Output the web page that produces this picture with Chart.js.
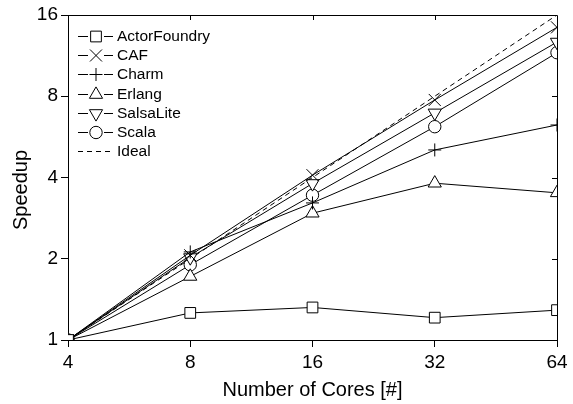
<!DOCTYPE html>
<html>
<head>
<meta charset="utf-8">
<script src="https://cdn.jsdelivr.net/npm/chart.js@4/dist/chart.umd.min.js"></script>
<style>
  html, body { margin: 0; padding: 0; background: #fff; }
  #wrap { width: 573px; height: 404px; }
</style>
</head>
<body>
<div id="wrap"><canvas id="speedup-chart" width="573" height="404"></canvas></div>
<script>
// --- data ---
const cores = [4, 8, 16, 32, 64];
const yTicks = [1, 2, 4, 8, 16];
const seriesNames = ['ActorFoundry', 'CAF', 'Charm', 'Erlang', 'SalsaLite', 'Scala', 'Ideal'];
const actorFoundry = [1, 1.26, 1.32, 1.21, 1.29];
const caf = [1, 2.06, 4.08, 7.75, 14.4];
const charm = [1, 2.12, 3.22, 5.06, 6.26];
const erlang = [1, 1.72, 2.95, 3.81, 3.51];
const salsaLite = [1, 2.02, 3.8, 6.94, 12.7];
const scala = [1, 1.9, 3.44, 6.17, 11.6];
const ideal = [1, 2, 4, 8, 16];

const FONT = "'Liberation Sans', Arial, Helvetica, sans-serif";

function pts(values) {
    return values.map((v, i) => ({ x: cores[i], y: v }));
}

// marker style per series
const markers = [
    { style: 'rect', radius: 7.6, rotation: 0 },
    { style: 'crossRot', radius: 8.5, rotation: 0 },
    { style: 'cross', radius: 6.5, rotation: 0 },
    { style: 'triangle', radius: 7.6, rotation: 0 },
    { style: 'triangle', radius: 7.6, rotation: 180 },
    { style: 'circle', radius: 6.2, rotation: 0 },
    { style: false, radius: 0, rotation: 0 }
];
const allValues = [actorFoundry, caf, charm, erlang, salsaLite, scala, ideal];

const datasets = allValues.map((vals, i) => ({
    label: seriesNames[i],
    data: pts(vals),
    borderColor: '#000',
    borderWidth: 1,
    borderDash: i === 6 ? [5, 4] : [],
    backgroundColor: '#fff',
    pointStyle: markers[i].style,
    pointRadius: markers[i].radius,
    pointRotation: markers[i].rotation,
    pointBorderColor: '#000',
    pointBackgroundColor: '#fff',
    pointBorderWidth: 1,
    tension: 0,
    fill: false
}));

// --- frame, inward mirror ticks, axis titles and legend ---
const framePlugin = {
    id: 'frame',
    afterDraw(chart) {
        const ctx = chart.ctx;
        const a = chart.chartArea;
        const xs = chart.scales.x, ys = chart.scales.y;
        ctx.save();
        ctx.strokeStyle = '#000';
        ctx.lineWidth = 1;
        ctx.beginPath();
        ctx.moveTo(a.left, a.top + 0.5);
        ctx.lineTo(a.right + 0.5, a.top + 0.5);
        ctx.lineTo(a.right + 0.5, a.bottom);
        // top ticks
        cores.slice(1, -1).forEach(c => {
            const px = Math.round(xs.getPixelForValue(c)) + 0.5;
            ctx.moveTo(px, a.top);
            ctx.lineTo(px, a.top + 5);
        });
        // right ticks
        yTicks.slice(1, -1).forEach(v => {
            const py = Math.round(ys.getPixelForValue(v)) + 0.5;
            ctx.moveTo(a.right, py);
            ctx.lineTo(a.right - 5, py);
        });
        ctx.stroke();

        // axis titles
        ctx.fillStyle = '#000';
        ctx.font = '20px ' + FONT;
        ctx.textAlign = 'center';
        ctx.textBaseline = 'middle';
        ctx.fillText('Number of Cores [#]', (a.left + a.right) / 2, 390);
        ctx.save();
        ctx.translate(21, 190);
        ctx.rotate(-Math.PI / 2);
        ctx.fillText('Speedup', 0, 0);
        ctx.restore();

        // legend: line - marker - line, then label
        ctx.font = '15.5px ' + FONT;
        ctx.textAlign = 'left';
        chart.data.datasets.forEach((ds, i) => {
            const y = Math.round(36 + i * 19.2) + 0.5;
            ctx.beginPath();
            ctx.setLineDash(ds.borderDash);
            if (ds.pointStyle) {
                ctx.moveTo(78, y); ctx.lineTo(88, y);
                ctx.moveTo(104, y); ctx.lineTo(113, y);
            } else {
                ctx.moveTo(78, y); ctx.lineTo(113, y);
            }
            ctx.stroke();
            ctx.setLineDash([]);
            if (ds.pointStyle) {
                ctx.fillStyle = '#fff';
                Chart.helpers.drawPoint(ctx, {
                    pointStyle: ds.pointStyle,
                    radius: ds.pointRadius,
                    rotation: ds.pointRotation,
                    borderWidth: 1
                }, 96, y);
            }
            ctx.fillStyle = '#000';
            ctx.fillText(ds.label, 117, y);
        });
        ctx.restore();
    }
};

const ctx = document.getElementById('speedup-chart').getContext('2d');
window.speedupChart = new Chart(ctx, {
    type: 'line',
    data: { datasets: datasets },
    options: {
        responsive: false,
        animation: false,
        events: [],
        layout: { padding: { left: 0, top: 15, right: 16, bottom: 0 } },
        plugins: { legend: { display: false }, tooltip: { enabled: false } },
        scales: {
            x: {
                type: 'logarithmic',
                min: 4,
                max: 64,
                afterBuildTicks: s => { s.ticks = cores.map(v => ({ value: v })); },
                afterFit: s => { s.height = 64; },
                ticks: {
                    callback: v => String(v),
                    color: '#000',
                    font: { family: FONT, size: 19 },
                    maxRotation: 0,
                    autoSkip: false,
                    padding: 4
                },
                grid: { drawOnChartArea: false, color: '#000', tickLength: 7, lineWidth: 1 },
                border: { color: '#000', width: 1 }
            },
            y: {
                type: 'logarithmic',
                min: 1,
                max: 16,
                afterBuildTicks: s => { s.ticks = yTicks.map(v => ({ value: v })); },
                afterFit: s => { s.width = 68; },
                ticks: {
                    callback: v => String(v),
                    color: '#000',
                    font: { family: FONT, size: 19 },
                    autoSkip: false,
                    padding: 3
                },
                grid: { drawOnChartArea: false, color: '#000', tickLength: 7, lineWidth: 1 },
                border: { color: '#000', width: 1 }
            }
        }
    },
    plugins: [framePlugin]
});
</script>
</body>
</html>
